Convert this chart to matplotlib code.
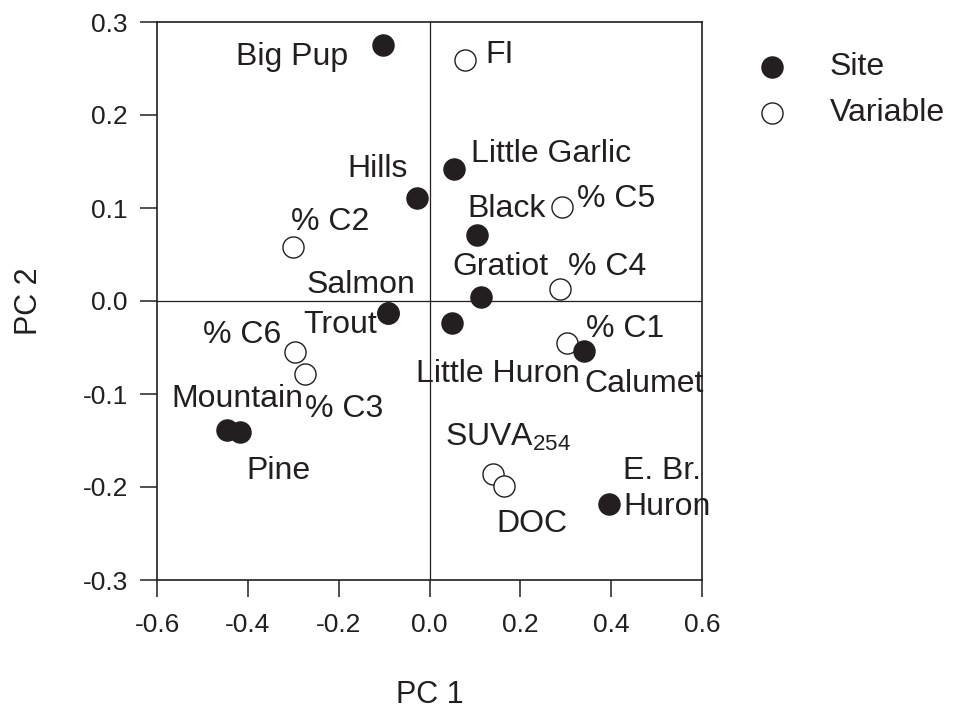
"""PCA biplot: PC 1 vs PC 2 for sites and variables."""
import matplotlib
matplotlib.use("Agg")
import matplotlib.pyplot as plt

INK = "#231f20"
plt.rcParams["font.family"] = ["Liberation Sans", "DejaVu Sans"]
plt.rcParams["mathtext.fontset"] = "custom"
plt.rcParams["mathtext.rm"] = "Liberation Sans"

# site scores
site_names = ["Big Pup", "Hills", "Little Garlic", "Black", "Gratiot", "Salmon",
              "Trout", "Little Huron", "Calumet", "Mountain", "Pine", "E. Br.\nHuron"]
site_pc1 = [-0.102, -0.028, 0.053, 0.104, 0.113, -0.091,
            -0.091, 0.049, 0.340, -0.446, -0.417, 0.396]
site_pc2 = [0.275, 0.111, 0.142, 0.071, 0.004, -0.013,
            -0.013, -0.024, -0.054, -0.139, -0.141, -0.218]

# variable loadings
var_names = ["FI", "% C5", "% C2", "% C4", "% C1", "% C6", "% C3",
             r"SUVA$_{254}$", "DOC"]
var_pc1 = [0.078, 0.291, -0.300, 0.287, 0.302, -0.296, -0.274, 0.140, 0.164]
var_pc2 = [0.259, 0.101, 0.058, 0.013, -0.045, -0.055, -0.078, -0.186, -0.199]

x_ticks = [-0.6, -0.4, -0.2, 0.0, 0.2, 0.4, 0.6]
y_ticks = [-0.3, -0.2, -0.1, 0.0, 0.1, 0.2, 0.3]

# label placement (offset in pixels from the point, horizontal alignment)
site_lbl = [(-35, -20, "right"), (-9, 21, "right"), (17, 7, "left"),
            (-9, 18, "left"), (-28, 22, "left"), (27, 20, "right"),
            (-11, -20, "right"), (128, -59, "right"), (0, -41, "left"),
            (76, 23, "right"), (6, -47, "left"), (14, -11, "left")]
var_lbl = [(20, -3, "left"), (15, 0, "left"), (-2, 17, "left"), (8, 14, "left"),
           (19, 6, "left"), (-14, 9, "right"), (0, -43, "left"),
           (-48, 28, "left"), (-8, -46, "left")]

fig = plt.figure(figsize=(9.65, 7.11), dpi=100)
ax = fig.add_axes([157/965, 1 - 580/711, 545/965, 558/711])

ax.axhline(0, color=INK, lw=0.9, zorder=1)
ax.axvline(0, color=INK, lw=0.9, zorder=1)

ms = 15.2
hv = ax.scatter(var_pc1, var_pc2, s=ms**2, facecolor="white", edgecolor=INK,
                linewidth=1.0, zorder=3, label="Variable")
hs = ax.scatter(site_pc1, site_pc2, s=ms**2, facecolor=INK, edgecolor=INK,
                linewidth=1.0, zorder=4, label="Site")

FS = 23
for name, x, y, (dx, dy, ha) in zip(site_names, site_pc1, site_pc2, site_lbl):
    ax.annotate(name, (x, y), xytext=(dx, dy), textcoords="offset pixels",
                ha=ha, va="baseline", fontsize=FS, color=INK, zorder=5,
                linespacing=1.25)
for name, x, y, (dx, dy, ha) in zip(var_names, var_pc1, var_pc2, var_lbl):
    ax.annotate(name, (x, y), xytext=(dx, dy), textcoords="offset pixels",
                ha=ha, va="baseline", fontsize=FS, color=INK, zorder=5)

ax.set_xlim(-0.6, 0.6)
ax.set_ylim(-0.3, 0.3)
ax.set_xticks(x_ticks)
ax.set_yticks(y_ticks)
ax.set_xticklabels([f"{v:.1f}" for v in x_ticks])
ax.set_yticklabels([f"{v:.1f}" for v in y_ticks])
ax.tick_params(direction="out", length=12, width=1.1, color=INK,
               labelsize=19, labelcolor=INK)
ax.tick_params(axis="x", pad=12)
ax.tick_params(axis="y", pad=9)
for sp in ax.spines.values():
    sp.set_linewidth(1.2)
    sp.set_color(INK)

ax.set_xlabel("PC 1", fontsize=22, color=INK, labelpad=31)
ax.set_ylabel("PC 2", fontsize=22, color=INK, labelpad=28)

fig.legend([hs, hv], ["Site", "Variable"], loc="upper left",
           bbox_to_anchor=(756/965, 1 - 52/711), frameon=False, fontsize=23,
           handlelength=1.0, handletextpad=1.3, labelspacing=0.5,
           borderpad=0, borderaxespad=0, scatterpoints=1, labelcolor=INK)

fig.savefig("out.png", dpi=100)
